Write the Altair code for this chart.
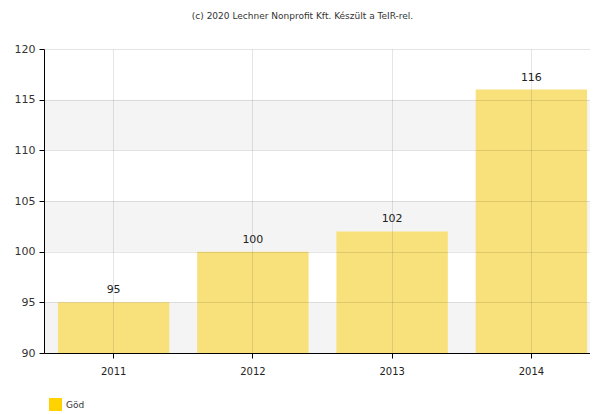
import altair as alt
import pandas as pd

years = ["2011", "2012", "2013", "2014"]
values = [95, 100, 102, 116]
series = "Göd"
band_lo = [90, 100, 110]
band_hi = [95, 105, 115]

df = pd.DataFrame({"year": years, "value": values, "series": [series] * len(years)})
bands = pd.DataFrame({"lo": band_lo, "hi": band_hi})

FONT = "DejaVu Sans"

yscale = alt.Scale(domain=[90, 120], nice=False, zero=False)
xscale = alt.Scale(paddingInner=0.2, paddingOuter=0.1)

band_layer = alt.Chart(bands).mark_rect(color="#f4f4f4").encode(
    y=alt.Y("lo:Q", scale=yscale),
    y2="hi:Q",
)

bars = alt.Chart(df).mark_bar(color="#F8E07B").encode(
    x=alt.X("year:N", title=None, sort=years, scale=xscale,
            axis=alt.Axis(labelAngle=0, grid=True, gridColor="#000000", gridOpacity=0.1,
                          domainColor="#000000", tickColor="#000000", tickSize=5,
                          labelPadding=8, labelFontSize=10, labelColor="#222222",
                          labelFont=FONT, zindex=1)),
    y=alt.Y("value:Q", scale=yscale, title=None,
            axis=alt.Axis(values=[90, 95, 100, 105, 110, 115, 120], grid=True,
                          gridColor="#000000", gridOpacity=0.1, domainColor="#000000",
                          tickColor="#000000", tickSize=5, labelPadding=4,
                          labelFontSize=11, labelColor="#333333", labelFont=FONT,
                          zindex=1)),
    y2=alt.datum(90),
)

legend_layer = alt.Chart(df).mark_point(opacity=0, filled=True).encode(
    x=alt.X("year:N", sort=years, scale=xscale),
    y=alt.Y("value:Q", scale=yscale),
    color=alt.Color("series:N", scale=alt.Scale(range=["#FFD200"]), title=None,
                    legend=alt.Legend(orient="none", legendX=5, legendY=349,
                                      padding=0,
                                      symbolType="square", symbolSize=169,
                                      symbolOpacity=1, symbolStrokeWidth=0,
                                      labelFontSize=9, labelColor="#333333",
                                      labelFont=FONT)),
)

labels = alt.Chart(df).mark_text(dy=-12, fontSize=11, color="#222222", font=FONT).encode(
    x=alt.X("year:N", sort=years, scale=xscale),
    y=alt.Y("value:Q", scale=yscale),
    text="value:Q",
)

chart = alt.layer(band_layer, bars, labels, legend_layer).properties(
    width=557,
    height=304,
    autosize=alt.AutoSizeParams(type="none"),
    padding={"left": 36, "top": 41, "right": -11, "bottom": 60},
    title=alt.TitleParams("(c) 2020 Lechner Nonprofit Kft. Készült a TeIR-rel.",
                          fontSize=9, font=FONT, fontWeight="normal",
                          color="#333333", anchor="middle", offset=22, dx=-20),
).configure_view(stroke=None).configure_axis(domainWidth=1)

chart.save("out.html", embed_options={"renderer": "svg", "actions": False})
